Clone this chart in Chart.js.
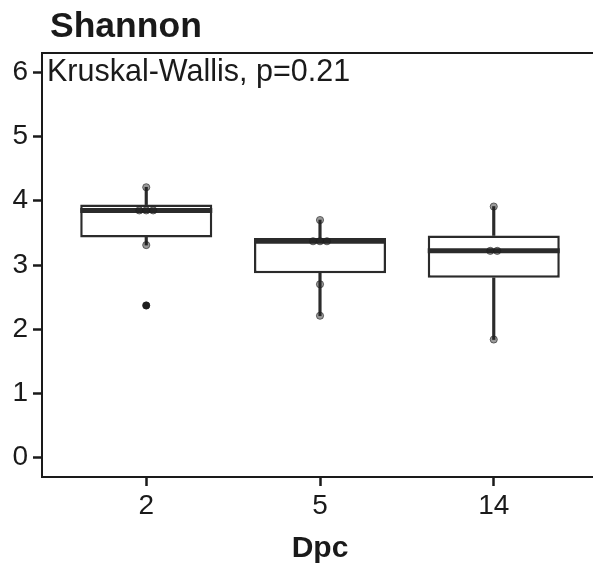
<!DOCTYPE html>
<html>
<head>
<meta charset="utf-8">
<script src="https://cdn.jsdelivr.net/npm/chart.js@4.4.1/dist/chart.umd.min.js"></script>
<style>
  html, body { margin: 0; padding: 0; background: #fff; overflow: hidden; }
</style>
</head>
<body>
<canvas id="grafico" width="600" height="567"></canvas>
<script>
// ============================
// DATOS
// ============================
const grupos = ["2", "5", "14"];
const q1 = [3.43, 2.87, 2.80];
const mediana = [3.85, 3.37, 3.22];
const q3 = [3.94, 3.42, 3.46];
const bigoteMin = [3.31, 2.21, 1.84];
const bigoteMax = [4.21, 3.70, 3.91];
const puntos = [
  [4.21, 3.85, 3.85, 3.85, 3.31, 2.37],
  [3.70, 3.37, 3.37, 3.37, 2.70, 2.21],
  [3.91, 3.22, 3.22, 1.84]
];
const atipicos = [[2.37], [], []];
const ticksY = [0, 1, 2, 3, 4, 5, 6];
const titulo = "Shannon";
const tituloX = "Dpc";
const prueba = "Kruskal-Wallis, p=0.21";

const FUENTE = "'Liberation Sans', Arial, Helvetica, sans-serif";
const OSCURO = "#1a1a1a";
const CAJA = "#2b2b2b";

// ============================
// CONSTRUIR DATASETS
// ============================
const cajas = grupos.map((g, i) => ({ x: i, y: [q1[i], q3[i]] }));
const bigotesArriba = grupos.map((g, i) => ({ x: i, y: [q3[i], bigoteMax[i]] }));
const bigotesAbajo = grupos.map((g, i) => ({ x: i, y: [bigoteMin[i], q1[i]] }));
const medianas = grupos.map((g, i) => ({ x: i, y: mediana[i] }));

// puntos repetidos se separan un poco en horizontal
const puntosXY = [];
puntos.forEach((lista, i) => {
  const vistos = {};
  lista.forEach(v => { vistos[v] = (vistos[v] || 0) + 1; });
  const usados = {};
  lista.forEach(v => {
    const n = vistos[v];
    const k = usados[v] || 0;
    usados[v] = k + 1;
    puntosXY.push({ x: i + (k - (n - 1) / 2) * 0.04, y: v });
  });
});
const atipicosXY = [];
atipicos.forEach((lista, i) => lista.forEach(v => atipicosXY.push({ x: i, y: v })));

// ============================
// PLUGIN: titulo, borde y texto
// ============================
const extras = {
  id: "extras",
  afterDraw(chart) {
    const { ctx, chartArea, scales } = chart;
    ctx.save();
    // borde superior del panel
    ctx.strokeStyle = OSCURO;
    ctx.lineWidth = 2;
    ctx.beginPath();
    ctx.moveTo(chartArea.left, chartArea.top);
    ctx.lineTo(chartArea.right + 2, chartArea.top);
    ctx.lineTo(chartArea.right, chartArea.bottom);
    ctx.stroke();
    // titulo
    ctx.fillStyle = OSCURO;
    ctx.textBaseline = "alphabetic";
    ctx.textAlign = "left";
    ctx.font = "bold 35.5px " + FUENTE;
    ctx.fillText(titulo, chartArea.left + 8, 37);
    // texto de la prueba
    ctx.font = "30.5px " + FUENTE;
    ctx.textBaseline = "middle";
    ctx.fillText(prueba, chartArea.left + 5, scales.y.getPixelForValue(6));
    ctx.restore();
  }
};

// ============================
// GRAFICO
// ============================
const chart = new Chart(document.getElementById("grafico"), {
  type: "bar",
  data: {
    datasets: [
      {
        type: "scatter",
        data: puntosXY,
        pointRadius: 3.6,
        pointBackgroundColor: "rgba(30,30,30,0.45)",
        pointBorderColor: "rgba(30,30,30,0.6)",
        pointBorderWidth: 1,
        order: 0
      },
      {
        type: "scatter",
        data: atipicosXY,
        pointRadius: 3.7,
        pointBackgroundColor: "#1e1e1e",
        pointBorderColor: "#1e1e1e",
        pointBorderWidth: 0,
        order: 1
      },
      {
        type: "scatter",
        data: medianas,
        pointStyle: "line",
        pointRadius: 66,
        pointBorderWidth: 5,
        pointBorderColor: CAJA,
        order: 2
      },
      {
        data: cajas,
        backgroundColor: "#ffffff",
        borderColor: CAJA,
        borderWidth: 2.5,
        borderSkipped: false,
        barPercentage: 0.76,
        categoryPercentage: 1,
        grouped: false,
        order: 3
      },
      {
        data: bigotesArriba,
        backgroundColor: CAJA,
        barThickness: 2.5,
        grouped: false,
        order: 4
      },
      {
        data: bigotesAbajo,
        backgroundColor: CAJA,
        barThickness: 2.5,
        grouped: false,
        order: 4
      }
    ]
  },
  options: {
    responsive: false,
    animation: false,
    events: [],
    layout: { autoPadding: false, padding: { top: 53, right: 2, left: 0, bottom: 0 } },
    plugins: {
      legend: { display: false },
      tooltip: { enabled: false },
      title: { display: false }
    },
    scales: {
      x: {
        type: "linear",
        min: -0.6,
        max: 2.6,
        offset: false,
        afterBuildTicks(scale) {
          scale.ticks = grupos.map((g, i) => ({ value: i }));
        },
        afterFit(scale) { scale.height = 90; },
        ticks: {
          callback: v => grupos[v],
          color: OSCURO,
          font: { family: FUENTE, size: 28 },
          padding: 3,
          maxRotation: 0
        },
        grid: {
          display: true,
          offset: false,
          drawOnChartArea: false,
          drawTicks: true,
          tickLength: 9,
          tickWidth: 2.5,
          color: OSCURO
        },
        border: { display: true, color: OSCURO, width: 2 },
        title: {
          display: true,
          text: tituloX,
          color: OSCURO,
          font: { family: FUENTE, size: 30, weight: "bold" },
          padding: { top: 0, bottom: 0 }
        }
      },
      y: {
        min: -0.3,
        max: 6.3,
        afterBuildTicks(scale) {
          scale.ticks = ticksY.map(v => ({ value: v }));
        },
        afterFit(scale) { scale.width = 42; },
        ticks: {
          color: OSCURO,
          font: { family: FUENTE, size: 28 },
          padding: 5
        },
        grid: {
          display: true,
          drawOnChartArea: false,
          drawTicks: true,
          tickLength: 9,
          tickWidth: 2.5,
          color: OSCURO
        },
        border: { display: true, color: OSCURO, width: 2 }
      }
    }
  },
  plugins: [extras]
});
</script>
</body>
</html>
